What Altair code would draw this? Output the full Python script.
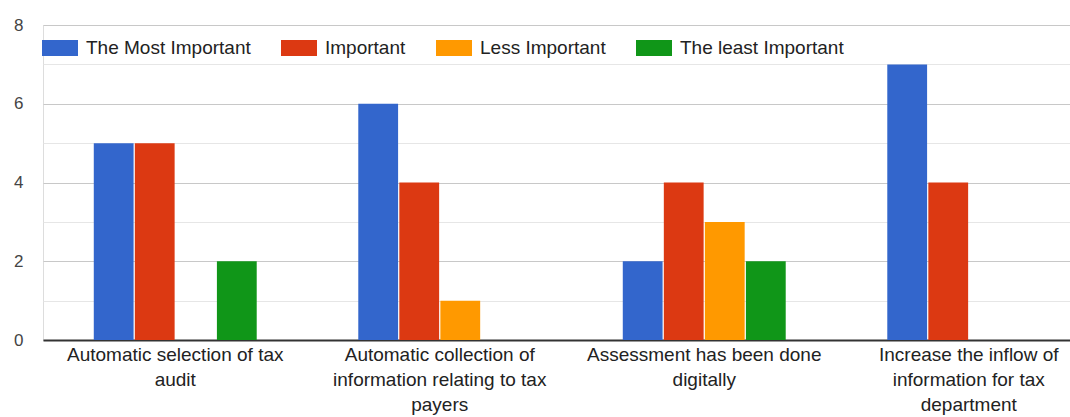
import json
import altair as alt
import pandas as pd

# Survey categories and their wrapped axis labels
categories = [
    "Automatic selection of tax audit",
    "Automatic collection of information relating to tax payers",
    "Assessment has been done digitally",
    "Increase the inflow of information for tax department",
]
category_lines = [
    ["Automatic selection of tax", "audit"],
    ["Automatic collection of", "information relating to tax", "payers"],
    ["Assessment has been done", "digitally"],
    ["Increase the inflow of", "information for tax", "department"],
]

series = ["The Most Important", "Important", "Less Important", "The least Important"]
colors = ["#3366cc", "#dc3912", "#ff9900", "#109618"]

most_important = [5, 6, 2, 7]
important = [5, 4, 4, 4]
less_important = [0, 1, 3, 0]
least_important = [2, 0, 2, 0]

values_by_series = [most_important, important, less_important, least_important]

rows = []
for s, vals in zip(series, values_by_series):
    for c, v in zip(categories, vals):
        rows.append({"category": c, "series": s, "count": v})
df = pd.DataFrame(rows)

# Multi-line tick labels for the category axis
label_expr = ""
for c, lines in zip(categories, category_lines):
    label_expr += f"datum.value == {json.dumps(c)} ? {json.dumps(lines)} : "
label_expr += "datum.label"

font = "Liberation Sans"

chart = (
    alt.Chart(df)
    .mark_bar()
    .encode(
        x=alt.X(
            "category:N",
            sort=categories,
            scale=alt.Scale(range=[0, 1058], paddingInner=0.384, paddingOuter=0.192),
            axis=alt.Axis(
                title=None,
                labelAngle=0,
                labelExpr=label_expr,
                labelFont=font,
                labelFontSize=19,
                labelColor="#222222",
                labelLineHeight=25,
                labelPadding=5,
                labelLimit=400,
                ticks=False,
                domainColor="#333333",
                domainWidth=2,
                grid=False,
            ),
        ),
        xOffset=alt.XOffset(
            "series:N", sort=series, scale=alt.Scale(paddingInner=0.03, paddingOuter=0)
        ),
        y=alt.Y(
            "count:Q",
            scale=alt.Scale(domain=[0, 8], nice=False),
            axis=alt.Axis(
                title=None,
                values=list(range(0, 9)),
                labelExpr="datum.value % 2 == 0 ? datum.label : ''",
                labelFont=font,
                labelFontSize=17,
                labelColor="#444444",
                labelPadding=20,
                ticks=False,
                domain=False,
                gridColor={
                    "condition": {"test": "datum.value % 2 == 0", "value": "#c8c8c8"},
                    "value": "#e6e6e6",
                },
                gridWidth=1.2,
            ),
        ),
        color=alt.Color(
            "series:N",
            sort=series,
            scale=alt.Scale(domain=series, range=colors),
            legend=alt.Legend(
                title=None,
                orient="none",
                direction="horizontal",
                legendX=-1,
                legendY=5,
                padding=0,
                symbolType="M-1,-0.45H1V0.45H-1Z",
                symbolSize=1296,
                symbolStrokeWidth=0,
                symbolOpacity=1,
                labelFont=font,
                labelFontSize=19,
                labelColor="#222222",
                labelOffset=8,
                columnPadding=30,
                labelLimit=400,
            ),
        ),
    )
    .properties(
        width=1027,
        height=315,
        autosize=alt.AutoSizeParams(type="none"),
        padding={"left": 43, "top": 25, "right": 0, "bottom": 77},
    )
    .configure_view(stroke=None)
    .configure(background="white")
)

chart.save("out.html", embed_options={"renderer": "svg", "actions": False})
